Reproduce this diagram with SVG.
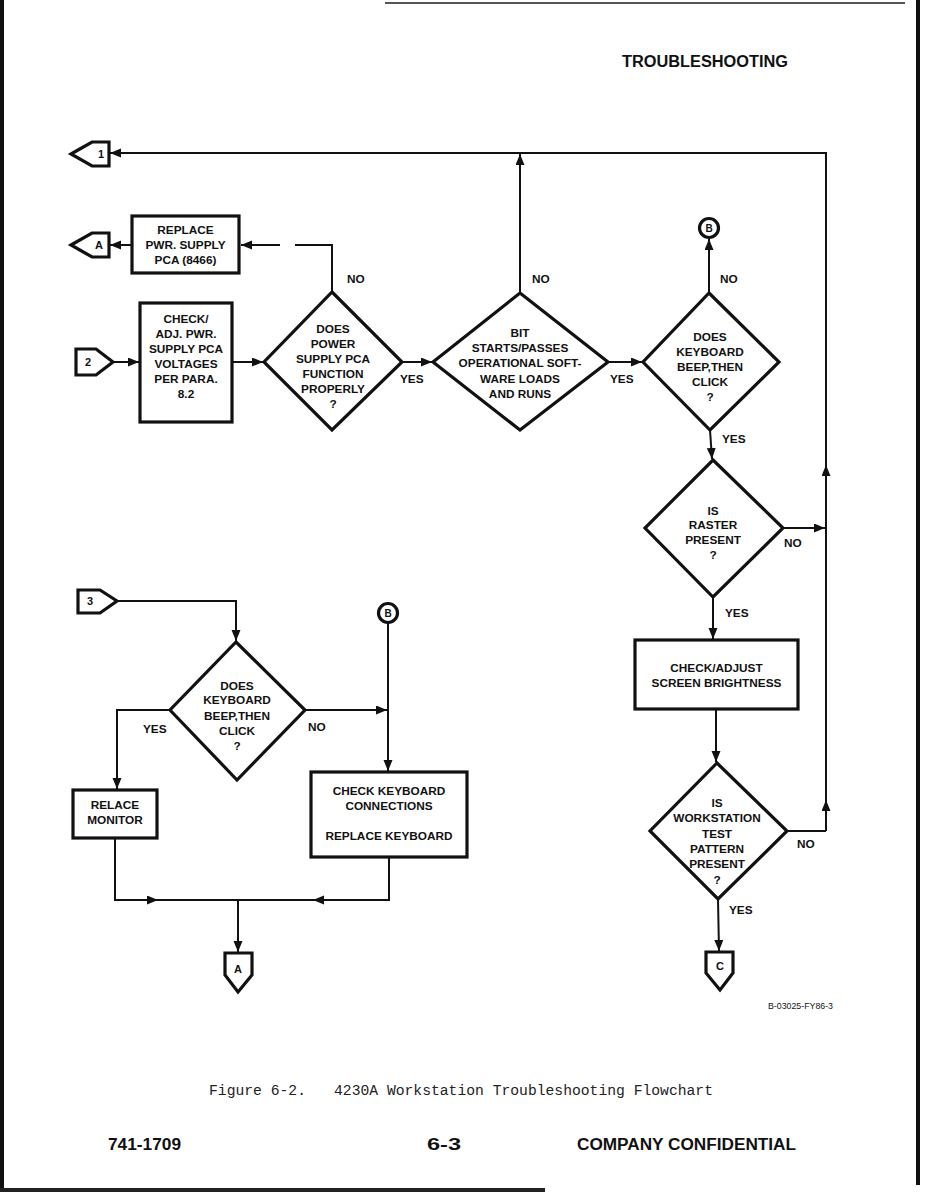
<svg xmlns="http://www.w3.org/2000/svg" width="927" height="1195" viewBox="0 0 927 1195">
<style>
.bg{fill:#fff}
.shape{fill:#fff;stroke:#111;stroke-width:3.2;stroke-linejoin:miter}
.conn{fill:none;stroke:#111;stroke-width:2}
.t{font-family:"Liberation Sans",Arial,sans-serif;font-weight:bold;font-size:11.8px;fill:#111;text-anchor:middle}
.lbl{font-family:"Liberation Sans",Arial,sans-serif;font-weight:bold;font-size:11.8px;fill:#111}
.cl{font-family:"Liberation Sans",Arial,sans-serif;font-weight:bold;font-size:11px;fill:#111;text-anchor:middle}
.hdr{font-family:"Liberation Sans",Arial,sans-serif;font-weight:bold;font-size:16px;fill:#111}
.mono{font-family:"Liberation Mono","Courier New",monospace;font-size:14.7px;fill:#222}
</style>
<defs>
<marker id="ah" markerUnits="userSpaceOnUse" markerWidth="12" markerHeight="10" refX="11" refY="4.5" orient="auto">
<path d="M0,0 L11,4.5 L0,9 z" fill="#111"/>
</marker>
</defs>
<rect class="bg" x="0" y="0" width="927" height="1195"/>
<g id="page">
<rect x="0" y="0" width="4" height="1190" fill="#111"/>
<rect x="916" y="0" width="4" height="1185" fill="#111"/>
<rect x="385" y="2" width="520" height="2" fill="#555"/>
<rect x="0" y="1188" width="545" height="4" fill="#222"/>
<text class="hdr" x="622" y="67" textLength="166" lengthAdjust="spacingAndGlyphs">TROUBLESHOOTING</text>
<text class="lbl" x="768" y="1009" textLength="65" lengthAdjust="spacingAndGlyphs" style="font-size:8.5px;font-weight:normal">B-03025-FY86-3</text>
<text class="mono" x="209" y="1095">Figure 6-2.</text>
<text class="mono" x="334" y="1095">4230A Workstation Troubleshooting Flowchart</text>
<text class="hdr" x="108" y="1150" textLength="73" lengthAdjust="spacingAndGlyphs">741-1709</text>
<text class="hdr" x="427" y="1150" textLength="34" lengthAdjust="spacingAndGlyphs">6-3</text>
<text class="hdr" x="577" y="1150" textLength="219" lengthAdjust="spacingAndGlyphs">COMPANY CONFIDENTIAL</text>
</g>
<g id="connectors">
<path class="conn" d="M826,831 L826,800" marker-end="url(#ah)"/>
<path class="conn" d="M826,800 L826,465" marker-end="url(#ah)"/>
<path class="conn" d="M826,465 L826,153 L110,153" marker-end="url(#ah)"/>
<path class="conn" d="M787,831 L826,831"/>
<path class="conn" d="M783,528 L825,528" marker-end="url(#ah)"/>
<path class="conn" d="M520,293 L520,154" marker-end="url(#ah)"/>
<path class="conn" d="M332,292 L332,245 L295,245"/>
<path class="conn" d="M280,245 L241,245" marker-end="url(#ah)"/>
<path class="conn" d="M132,245 L110,245" marker-end="url(#ah)"/>
<path class="conn" d="M113,362 L139,362" marker-end="url(#ah)"/>
<path class="conn" d="M232,362 L263,362" marker-end="url(#ah)"/>
<path class="conn" d="M402,362 L432,362" marker-end="url(#ah)"/>
<path class="conn" d="M608,362 L642,362" marker-end="url(#ah)"/>
<path class="conn" d="M709,293 L709,239" marker-end="url(#ah)"/>
<path class="conn" d="M710,430 L712,459" marker-end="url(#ah)"/>
<path class="conn" d="M713,597 L713,639" marker-end="url(#ah)"/>
<path class="conn" d="M716,709 L716,762" marker-end="url(#ah)"/>
<path class="conn" d="M718,899 L719,951" marker-end="url(#ah)"/>
<path class="conn" d="M117,601 L236,601 L236,641" marker-end="url(#ah)"/>
<path class="conn" d="M170,710 L117,710 L117,789" marker-end="url(#ah)"/>
<path class="conn" d="M305,710 L387,710" marker-end="url(#ah)"/>
<path class="conn" d="M388,623 L388,771" marker-end="url(#ah)"/>
<path class="conn" d="M115,838 L115,900 L158,900" marker-end="url(#ah)"/>
<path class="conn" d="M158,900 L389,900"/>
<path class="conn" d="M389,857 L389,900 L313,900" marker-end="url(#ah)"/>
<path class="conn" d="M238,900 L238,952" marker-end="url(#ah)"/>
<text class="lbl" x="347" y="283">NO</text>
<text class="lbl" x="532" y="283">NO</text>
<text class="lbl" x="720" y="283">NO</text>
<text class="lbl" x="400" y="383">YES</text>
<text class="lbl" x="610" y="383">YES</text>
<text class="lbl" x="722" y="443">YES</text>
<text class="lbl" x="784" y="547">NO</text>
<text class="lbl" x="725" y="617">YES</text>
<text class="lbl" x="797" y="848">NO</text>
<text class="lbl" x="729" y="914">YES</text>
<text class="lbl" x="143" y="733">YES</text>
<text class="lbl" x="308" y="731">NO</text>
</g>
<g id="c1">
<polygon class="shape" points="71,154 92,142 109,142 109,166 92,166"/>
<text class="cl" x="101" y="158">1</text>
</g>
<g id="cA1">
<polygon class="shape" points="71,245 92,233 109,233 109,257 92,257"/>
<text class="cl" x="99" y="249">A</text>
</g>
<g id="c2">
<polygon class="shape" points="76,349 96,349 113,362 96,375 76,375"/>
<text class="cl" x="88" y="366">2</text>
</g>
<g id="c3">
<polygon class="shape" points="78,590 100,590 117,601 100,613 78,613"/>
<text class="cl" x="90" y="605">3</text>
</g>
<g id="cB1">
<circle class="shape" cx="709" cy="228" r="9.5"/>
<text class="cl" x="709" y="232" style="font-size:10px">B</text>
</g>
<g id="cB2">
<circle class="shape" cx="388" cy="613" r="9.5"/>
<text class="cl" x="388" y="617" style="font-size:10px">B</text>
</g>
<g id="cC">
<polygon class="shape" points="706,952 733,952 733,973 720,990 706,973"/>
<text class="cl" x="720" y="970">C</text>
</g>
<g id="cA2">
<polygon class="shape" points="225,953 252,953 252,975 238,992 225,975"/>
<text class="cl" x="238" y="973">A</text>
</g>
<g id="replace_psu">
<rect class="shape" x="132" y="216" width="107" height="57"/>
<text class="t" x="185.5" y="234">REPLACE</text>
<text class="t" x="185.5" y="249">PWR. SUPPLY</text>
<text class="t" x="185.5" y="264">PCA (8466)</text>
</g>
<g id="check_psu">
<rect class="shape" x="140" y="303" width="92" height="119"/>
<text class="t" x="186" y="323">CHECK/</text>
<text class="t" x="186" y="338">ADJ. PWR.</text>
<text class="t" x="186" y="353">SUPPLY PCA</text>
<text class="t" x="186" y="368">VOLTAGES</text>
<text class="t" x="186" y="383">PER PARA.</text>
<text class="t" x="186" y="398">8.2</text>
</g>
<g id="d_power">
<polygon class="shape" points="332,292 402,362 332,430 264,362"/>
<text class="t" x="333" y="333">DOES</text>
<text class="t" x="333" y="348">POWER</text>
<text class="t" x="333" y="363">SUPPLY PCA</text>
<text class="t" x="333" y="378">FUNCTION</text>
<text class="t" x="333" y="393">PROPERLY</text>
<text class="t" x="333" y="408">?</text>
</g>
<g id="d_bit">
<polygon class="shape" points="520,293 608,362 520,430 433,362"/>
<text class="t" x="520" y="337">BIT</text>
<text class="t" x="520" y="352">STARTS/PASSES</text>
<text class="t" x="520" y="367">OPERATIONAL SOFT-</text>
<text class="t" x="520" y="383">WARE LOADS</text>
<text class="t" x="520" y="398">AND RUNS</text>
</g>
<g id="d_kbd1">
<polygon class="shape" points="709,293 779,362 710,430 643,362"/>
<text class="t" x="710" y="341">DOES</text>
<text class="t" x="710" y="356">KEYBOARD</text>
<text class="t" x="710" y="371">BEEP,THEN</text>
<text class="t" x="710" y="386">CLICK</text>
<text class="t" x="710" y="401">?</text>
</g>
<g id="d_raster">
<polygon class="shape" points="713,460 783,528 713,597 645,528"/>
<text class="t" x="713" y="515">IS</text>
<text class="t" x="713" y="529">RASTER</text>
<text class="t" x="713" y="544">PRESENT</text>
<text class="t" x="713" y="559">?</text>
</g>
<g id="check_bright">
<rect class="shape" x="635" y="640" width="163" height="69"/>
<text class="t" x="716.5" y="672">CHECK/ADJUST</text>
<text class="t" x="716.5" y="687">SCREEN BRIGHTNESS</text>
</g>
<g id="d_pattern">
<polygon class="shape" points="717,763 787,831 718,899 650,831"/>
<text class="t" x="717" y="807">IS</text>
<text class="t" x="717" y="822">WORKSTATION</text>
<text class="t" x="717" y="838">TEST</text>
<text class="t" x="717" y="853">PATTERN</text>
<text class="t" x="717" y="868">PRESENT</text>
<text class="t" x="717" y="884">?</text>
</g>
<g id="d_kbd2">
<polygon class="shape" points="236,642 305,710 237,780 170,710"/>
<text class="t" x="237" y="690">DOES</text>
<text class="t" x="237" y="704">KEYBOARD</text>
<text class="t" x="237" y="720">BEEP,THEN</text>
<text class="t" x="237" y="735">CLICK</text>
<text class="t" x="237" y="750">?</text>
</g>
<g id="relace_monitor">
<rect class="shape" x="73" y="790" width="84" height="48"/>
<text class="t" x="115" y="809">RELACE</text>
<text class="t" x="115" y="824">MONITOR</text>
</g>
<g id="check_kbd">
<rect class="shape" x="311" y="772" width="156" height="85"/>
<text class="t" x="389" y="795">CHECK KEYBOARD</text>
<text class="t" x="389" y="810">CONNECTIONS</text>
<text class="t" x="389" y="840">REPLACE KEYBOARD</text>
</g>
</svg>
